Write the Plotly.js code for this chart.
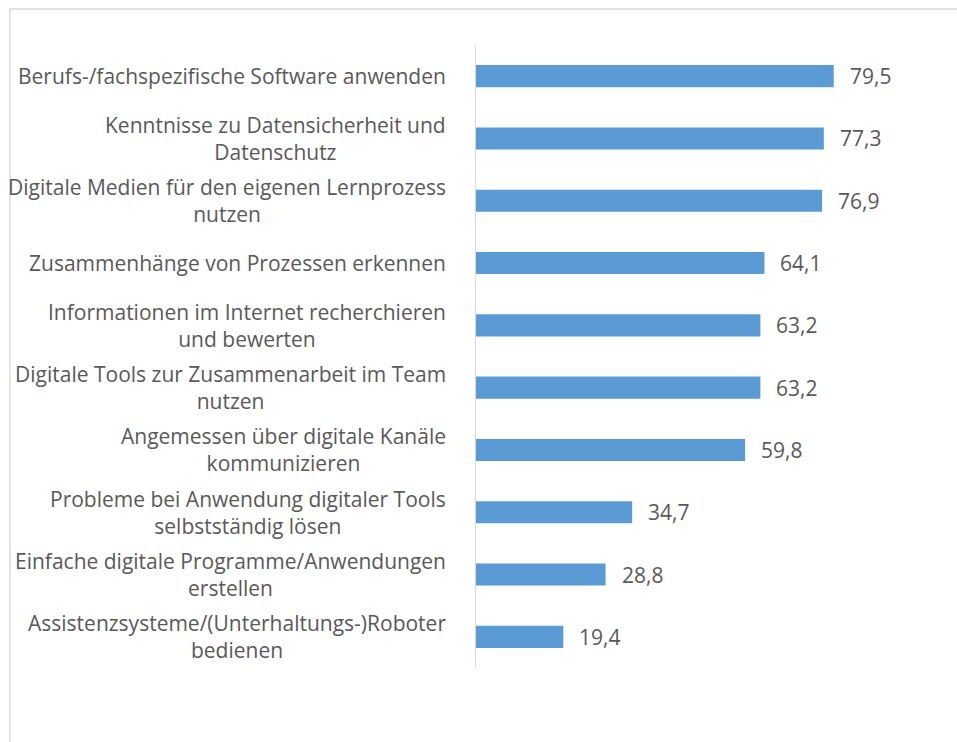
<!DOCTYPE html>
<html><head><meta charset="utf-8">
<script src="https://cdn.plot.ly/plotly-3.0.1.min.js"></script>
<style>html,body{margin:0;padding:0;background:#fff}#chart{width:957px;height:742px}</style>
</head><body><div id="chart"></div>
<script>
const categories = [
  "Berufs-/fachspezifische Software anwenden",
  "Kenntnisse zu Datensicherheit und<br>Datenschutz",
  "Digitale Medien für den eigenen Lernprozess<br>nutzen",
  "Zusammenhänge von Prozessen erkennen",
  "Informationen im Internet recherchieren<br>und bewerten",
  "Digitale Tools zur Zusammenarbeit im Team<br>nutzen",
  "Angemessen über digitale Kanäle<br>kommunizieren",
  "Probleme bei Anwendung digitaler Tools<br>selbstständig lösen",
  "Einfache digitale Programme/Anwendungen<br>erstellen",
  "Assistenzsysteme/(Unterhaltungs-)Roboter<br>bedienen"
];
const values = [79.5, 77.3, 76.9, 64.1, 63.2, 63.2, 59.8, 34.7, 28.8, 19.4];

const font = "Open Sans, Noto Sans, sans-serif";
const txt = "#595959";

const annotations = [];
categories.forEach((c, i) => {
  annotations.push({x: 0, xref: 'paper', y: c, yref: 'y', text: c, showarrow: false,
    xanchor: 'right', yanchor: 'middle', align: 'center', xshift: -28,
    font: {family: font, size: 21, color: txt}});
  annotations.push({x: values[i], xref: 'x', y: c, yref: 'y',
    text: values[i].toFixed(1).replace('.', ','), showarrow: false,
    xanchor: 'left', yanchor: 'middle', xshift: 14,
    font: {family: font, size: 21, color: txt}});
});

Plotly.newPlot('chart', [{
  type: 'bar', orientation: 'h', x: values, y: categories,
  marker: {color: '#5B9BD5', line: {width: 0}},
  hoverinfo: 'none'
}], {
  width: 957, height: 742,
  margin: {l: 476, r: 31, t: 45, b: 74},
  paper_bgcolor: '#fff', plot_bgcolor: '#fff',
  bargap: 0.645,
  showlegend: false,
  separators: ',.',
  xaxis: {range: [0, 100], showgrid: false, zeroline: false, showticklabels: false, showline: false, fixedrange: true},
  yaxis: {autorange: 'reversed', showticklabels: false, showgrid: false, zeroline: false,
    showline: true, linecolor: '#d9d9d9', linewidth: 1, ticks: '', fixedrange: true},
  annotations: annotations,
  shapes: [{type: 'rect', xref: 'paper', yref: 'paper', x0: -466/450, x1: 1.2, y0: -0.2, y1: 1 + 36/623,
    line: {color: '#d9d9d9', width: 1.5}, fillcolor: 'rgba(0,0,0,0)', layer: 'below'}]
}, {displayModeBar: false, staticPlot: true});
</script></body></html>
